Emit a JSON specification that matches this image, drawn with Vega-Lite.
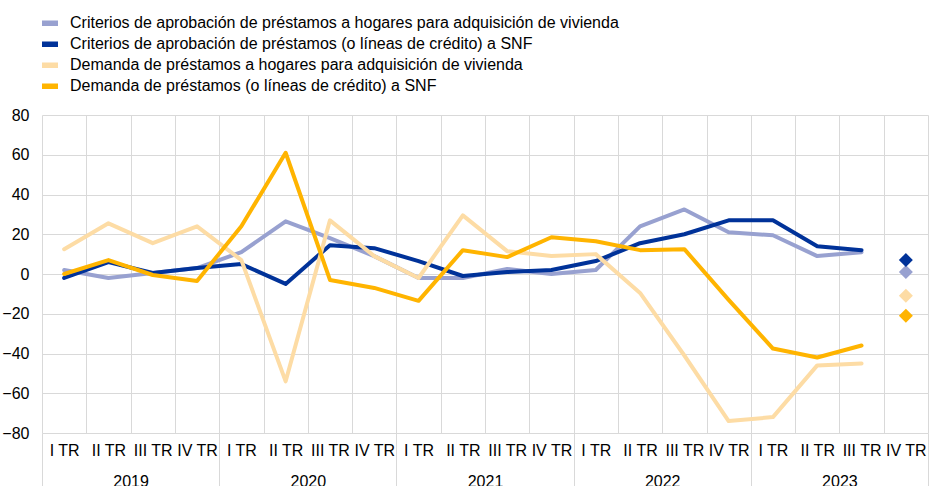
{
  "$schema": "https://vega.github.io/schema/vega-lite/v6.json",
  "width": 886,
  "height": 318,
  "autosize": {"type": "none"},
  "padding": {"left": 42, "top": 115, "right": 1, "bottom": 53},
  "background": "white",
  "config": {"font": "Liberation Sans", "view": {"stroke": null}},
  "datasets": {
    "lineas": [
      {"serie": "Criterios de aprobación de préstamos a hogares para adquisición de vivienda", "t": 0.5, "valor": 2},
      {"serie": "Criterios de aprobación de préstamos a hogares para adquisición de vivienda", "t": 1.5, "valor": -2},
      {"serie": "Criterios de aprobación de préstamos a hogares para adquisición de vivienda", "t": 2.5, "valor": 0.5},
      {"serie": "Criterios de aprobación de préstamos a hogares para adquisición de vivienda", "t": 3.5, "valor": 3},
      {"serie": "Criterios de aprobación de préstamos a hogares para adquisición de vivienda", "t": 4.5, "valor": 11},
      {"serie": "Criterios de aprobación de préstamos a hogares para adquisición de vivienda", "t": 5.5, "valor": 26.5},
      {"serie": "Criterios de aprobación de préstamos a hogares para adquisición de vivienda", "t": 6.5, "valor": 18},
      {"serie": "Criterios de aprobación de préstamos a hogares para adquisición de vivienda", "t": 7.5, "valor": 9},
      {"serie": "Criterios de aprobación de préstamos a hogares para adquisición de vivienda", "t": 8.5, "valor": -2},
      {"serie": "Criterios de aprobación de préstamos a hogares para adquisición de vivienda", "t": 9.5, "valor": -2},
      {"serie": "Criterios de aprobación de préstamos a hogares para adquisición de vivienda", "t": 10.5, "valor": 2.5},
      {"serie": "Criterios de aprobación de préstamos a hogares para adquisición de vivienda", "t": 11.5, "valor": 0},
      {"serie": "Criterios de aprobación de préstamos a hogares para adquisición de vivienda", "t": 12.5, "valor": 2},
      {"serie": "Criterios de aprobación de préstamos a hogares para adquisición de vivienda", "t": 13.5, "valor": 24},
      {"serie": "Criterios de aprobación de préstamos a hogares para adquisición de vivienda", "t": 14.5, "valor": 32.5},
      {"serie": "Criterios de aprobación de préstamos a hogares para adquisición de vivienda", "t": 15.5, "valor": 21},
      {"serie": "Criterios de aprobación de préstamos a hogares para adquisición de vivienda", "t": 16.5, "valor": 19.5},
      {"serie": "Criterios de aprobación de préstamos a hogares para adquisición de vivienda", "t": 17.5, "valor": 9},
      {"serie": "Criterios de aprobación de préstamos a hogares para adquisición de vivienda", "t": 18.5, "valor": 11},
      {"serie": "Criterios de aprobación de préstamos (o líneas de crédito) a SNF", "t": 0.5, "valor": -2},
      {"serie": "Criterios de aprobación de préstamos (o líneas de crédito) a SNF", "t": 1.5, "valor": 6},
      {"serie": "Criterios de aprobación de préstamos (o líneas de crédito) a SNF", "t": 2.5, "valor": 0.5},
      {"serie": "Criterios de aprobación de préstamos (o líneas de crédito) a SNF", "t": 3.5, "valor": 3},
      {"serie": "Criterios de aprobación de préstamos (o líneas de crédito) a SNF", "t": 4.5, "valor": 5},
      {"serie": "Criterios de aprobación de préstamos (o líneas de crédito) a SNF", "t": 5.5, "valor": -5},
      {"serie": "Criterios de aprobación de préstamos (o líneas de crédito) a SNF", "t": 6.5, "valor": 14.5},
      {"serie": "Criterios de aprobación de préstamos (o líneas de crédito) a SNF", "t": 7.5, "valor": 13},
      {"serie": "Criterios de aprobación de préstamos (o líneas de crédito) a SNF", "t": 8.5, "valor": 6.5},
      {"serie": "Criterios de aprobación de préstamos (o líneas de crédito) a SNF", "t": 9.5, "valor": -1},
      {"serie": "Criterios de aprobación de préstamos (o líneas de crédito) a SNF", "t": 10.5, "valor": 1},
      {"serie": "Criterios de aprobación de préstamos (o líneas de crédito) a SNF", "t": 11.5, "valor": 2},
      {"serie": "Criterios de aprobación de préstamos (o líneas de crédito) a SNF", "t": 12.5, "valor": 6.5},
      {"serie": "Criterios de aprobación de préstamos (o líneas de crédito) a SNF", "t": 13.5, "valor": 15.5},
      {"serie": "Criterios de aprobación de préstamos (o líneas de crédito) a SNF", "t": 14.5, "valor": 20},
      {"serie": "Criterios de aprobación de préstamos (o líneas de crédito) a SNF", "t": 15.5, "valor": 27},
      {"serie": "Criterios de aprobación de préstamos (o líneas de crédito) a SNF", "t": 16.5, "valor": 27},
      {"serie": "Criterios de aprobación de préstamos (o líneas de crédito) a SNF", "t": 17.5, "valor": 14},
      {"serie": "Criterios de aprobación de préstamos (o líneas de crédito) a SNF", "t": 18.5, "valor": 12},
      {"serie": "Demanda de préstamos a hogares para adquisición de vivienda", "t": 0.5, "valor": 12.5},
      {"serie": "Demanda de préstamos a hogares para adquisición de vivienda", "t": 1.5, "valor": 25.5},
      {"serie": "Demanda de préstamos a hogares para adquisición de vivienda", "t": 2.5, "valor": 15.5},
      {"serie": "Demanda de préstamos a hogares para adquisición de vivienda", "t": 3.5, "valor": 24},
      {"serie": "Demanda de préstamos a hogares para adquisición de vivienda", "t": 4.5, "valor": 7},
      {"serie": "Demanda de préstamos a hogares para adquisición de vivienda", "t": 5.5, "valor": -54},
      {"serie": "Demanda de préstamos a hogares para adquisición de vivienda", "t": 6.5, "valor": 27},
      {"serie": "Demanda de préstamos a hogares para adquisición de vivienda", "t": 7.5, "valor": 9},
      {"serie": "Demanda de préstamos a hogares para adquisición de vivienda", "t": 8.5, "valor": -2},
      {"serie": "Demanda de préstamos a hogares para adquisición de vivienda", "t": 9.5, "valor": 29.5},
      {"serie": "Demanda de préstamos a hogares para adquisición de vivienda", "t": 10.5, "valor": 11.5},
      {"serie": "Demanda de préstamos a hogares para adquisición de vivienda", "t": 11.5, "valor": 9},
      {"serie": "Demanda de préstamos a hogares para adquisición de vivienda", "t": 12.5, "valor": 10},
      {"serie": "Demanda de préstamos a hogares para adquisición de vivienda", "t": 13.5, "valor": -9.5},
      {"serie": "Demanda de préstamos a hogares para adquisición de vivienda", "t": 14.5, "valor": -41},
      {"serie": "Demanda de préstamos a hogares para adquisición de vivienda", "t": 15.5, "valor": -74},
      {"serie": "Demanda de préstamos a hogares para adquisición de vivienda", "t": 16.5, "valor": -72},
      {"serie": "Demanda de préstamos a hogares para adquisición de vivienda", "t": 17.5, "valor": -46},
      {"serie": "Demanda de préstamos a hogares para adquisición de vivienda", "t": 18.5, "valor": -45},
      {"serie": "Demanda de préstamos (o líneas de crédito) a SNF", "t": 0.5, "valor": 0},
      {"serie": "Demanda de préstamos (o líneas de crédito) a SNF", "t": 1.5, "valor": 7},
      {"serie": "Demanda de préstamos (o líneas de crédito) a SNF", "t": 2.5, "valor": -0.5},
      {"serie": "Demanda de préstamos (o líneas de crédito) a SNF", "t": 3.5, "valor": -3.5},
      {"serie": "Demanda de préstamos (o líneas de crédito) a SNF", "t": 4.5, "valor": 24},
      {"serie": "Demanda de préstamos (o líneas de crédito) a SNF", "t": 5.5, "valor": 61},
      {"serie": "Demanda de préstamos (o líneas de crédito) a SNF", "t": 6.5, "valor": -3},
      {"serie": "Demanda de préstamos (o líneas de crédito) a SNF", "t": 7.5, "valor": -7},
      {"serie": "Demanda de préstamos (o líneas de crédito) a SNF", "t": 8.5, "valor": -13.5},
      {"serie": "Demanda de préstamos (o líneas de crédito) a SNF", "t": 9.5, "valor": 12},
      {"serie": "Demanda de préstamos (o líneas de crédito) a SNF", "t": 10.5, "valor": 8.5},
      {"serie": "Demanda de préstamos (o líneas de crédito) a SNF", "t": 11.5, "valor": 18.5},
      {"serie": "Demanda de préstamos (o líneas de crédito) a SNF", "t": 12.5, "valor": 16.5},
      {"serie": "Demanda de préstamos (o líneas de crédito) a SNF", "t": 13.5, "valor": 12},
      {"serie": "Demanda de préstamos (o líneas de crédito) a SNF", "t": 14.5, "valor": 12.5},
      {"serie": "Demanda de préstamos (o líneas de crédito) a SNF", "t": 15.5, "valor": -13},
      {"serie": "Demanda de préstamos (o líneas de crédito) a SNF", "t": 16.5, "valor": -37.5},
      {"serie": "Demanda de préstamos (o líneas de crédito) a SNF", "t": 17.5, "valor": -42},
      {"serie": "Demanda de préstamos (o líneas de crédito) a SNF", "t": 18.5, "valor": -36}
    ],
    "expectativas": [
      {"serie": "Criterios de aprobación de préstamos a hogares para adquisición de vivienda", "t": 19.5, "valor": 1},
      {"serie": "Criterios de aprobación de préstamos (o líneas de crédito) a SNF", "t": 19.5, "valor": 7},
      {"serie": "Demanda de préstamos a hogares para adquisición de vivienda", "t": 19.5, "valor": -11},
      {"serie": "Demanda de préstamos (o líneas de crédito) a SNF", "t": 19.5, "valor": -21}
    ]
  },
  "layer": [
    {
      "data": {"name": "lineas"},
      "mark": {"type": "line", "strokeWidth": 4, "strokeCap": "round", "strokeJoin": "round"},
      "encoding": {
        "x": {
          "field": "t", "type": "quantitative",
          "scale": {"domain": [0, 20], "nice": false, "zero": false},
          "axis": {
            "orient": "bottom", "title": null,
            "values": [0,1,2,3,4,5,6,7,8,9,10,11,12,13,14,15,16,17,18,19,20],
            "grid": true, "gridColor": "#d9d9d9", "gridWidth": 1,
            "labels": false, "domain": false,
            "ticks": true, "tickSize": 53, "tickWidth": 1,
            "tickColor": {"condition": {"test": "datum.value % 4 === 0", "value": "#d9d9d9"}, "value": "transparent"}
          }
        },
        "y": {
          "field": "valor", "type": "quantitative",
          "scale": {"domain": [-80, 80], "nice": false},
          "axis": {
            "title": null, "values": [-80,-60,-40,-20,0,20,40,60,80],
            "grid": true, "gridColor": "#d9d9d9", "gridWidth": 1,
            "domain": false, "ticks": false, "labelPadding": 13,
            "labelOverlap": false, "labelFlush": false,
            "labelFontSize": 16, "labelColor": "#000"
          }
        },
        "color": {
          "field": "serie", "type": "nominal",
          "scale": {
            "domain": [
              "Criterios de aprobación de préstamos a hogares para adquisición de vivienda",
              "Criterios de aprobación de préstamos (o líneas de crédito) a SNF",
              "Demanda de préstamos a hogares para adquisición de vivienda",
              "Demanda de préstamos (o líneas de crédito) a SNF"
            ],
            "range": ["#98a1d0", "#003299", "#fddca5", "#ffb400"]
          },
          "legend": {
            "title": null, "orient": "none", "legendX": -3, "legendY": -102.3,
            "direction": "vertical", "padding": 0,
            "symbolType": "stroke", "symbolSize": 256, "symbolStrokeWidth": 5.5,
            "labelFontSize": 16, "labelColor": "#000", "labelOffset": 9,
            "clipHeight": 21, "rowPadding": 0, "labelLimit": 800
          }
        }
      }
    },
    {
      "data": {"name": "expectativas"},
      "mark": {"type": "point", "shape": "diamond", "filled": true, "size": 196, "opacity": 1},
      "encoding": {
        "x": {
          "field": "t", "type": "quantitative",
          "scale": {"domain": [0, 20], "nice": false, "zero": false},
          "axis": {
            "orient": "bottom", "title": null,
            "values": [0.5,1.5,2,2.5,3.5,4.5,5.5,6,6.5,7.5,8.5,9.5,10,10.5,11.5,12.5,13.5,14,14.5,15.5,16.5,17.5,18,18.5,19.5],
            "labelExpr": "datum.value % 1 === 0 ? '' + (2019 + (datum.value - 2) / 4) : ['I TR','II TR','III TR','IV TR'][floor(datum.value) % 4]",
            "labelPadding": {"condition": {"test": "datum.value % 1 === 0", "value": 40}, "value": 9},
            "grid": false, "ticks": false, "domain": false,
            "labelOverlap": false, "labelFlush": false, "labelBound": false,
            "labelFontSize": 16, "labelColor": "#000"
          }
        },
        "y": {
          "field": "valor", "type": "quantitative",
          "scale": {"domain": [-80, 80], "nice": false},
          "axis": {
            "title": null, "values": [-80,-60,-40,-20,0,20,40,60,80],
            "grid": true, "gridColor": "#d9d9d9", "gridWidth": 1,
            "domain": false, "ticks": false, "labelPadding": 13,
            "labelOverlap": false, "labelFlush": false,
            "labelFontSize": 16, "labelColor": "#000"
          }
        },
        "fill": {
          "field": "serie", "type": "nominal",
          "scale": {
            "domain": [
              "Criterios de aprobación de préstamos a hogares para adquisición de vivienda",
              "Criterios de aprobación de préstamos (o líneas de crédito) a SNF",
              "Demanda de préstamos a hogares para adquisición de vivienda",
              "Demanda de préstamos (o líneas de crédito) a SNF"
            ],
            "range": ["#98a1d0", "#003299", "#fddca5", "#ffb400"]
          },
          "legend": null
        }
      }
    },
    {
      "mark": {"type": "rule", "color": "#7f7f7f", "strokeWidth": 1.5},
      "encoding": {
        "y": {
          "datum": 0, "type": "quantitative",
          "scale": {"domain": [-80, 80], "nice": false},
          "axis": {
            "title": null, "values": [-80,-60,-40,-20,0,20,40,60,80],
            "grid": true, "gridColor": "#d9d9d9", "gridWidth": 1,
            "domain": false, "ticks": false, "labelPadding": 13,
            "labelOverlap": false, "labelFlush": false,
            "labelFontSize": 16, "labelColor": "#000"
          }
        }
      }
    }
  ],
  "resolve": {"scale": {"x": "independent", "fill": "independent"}, "axis": {"x": "independent"}}
}
